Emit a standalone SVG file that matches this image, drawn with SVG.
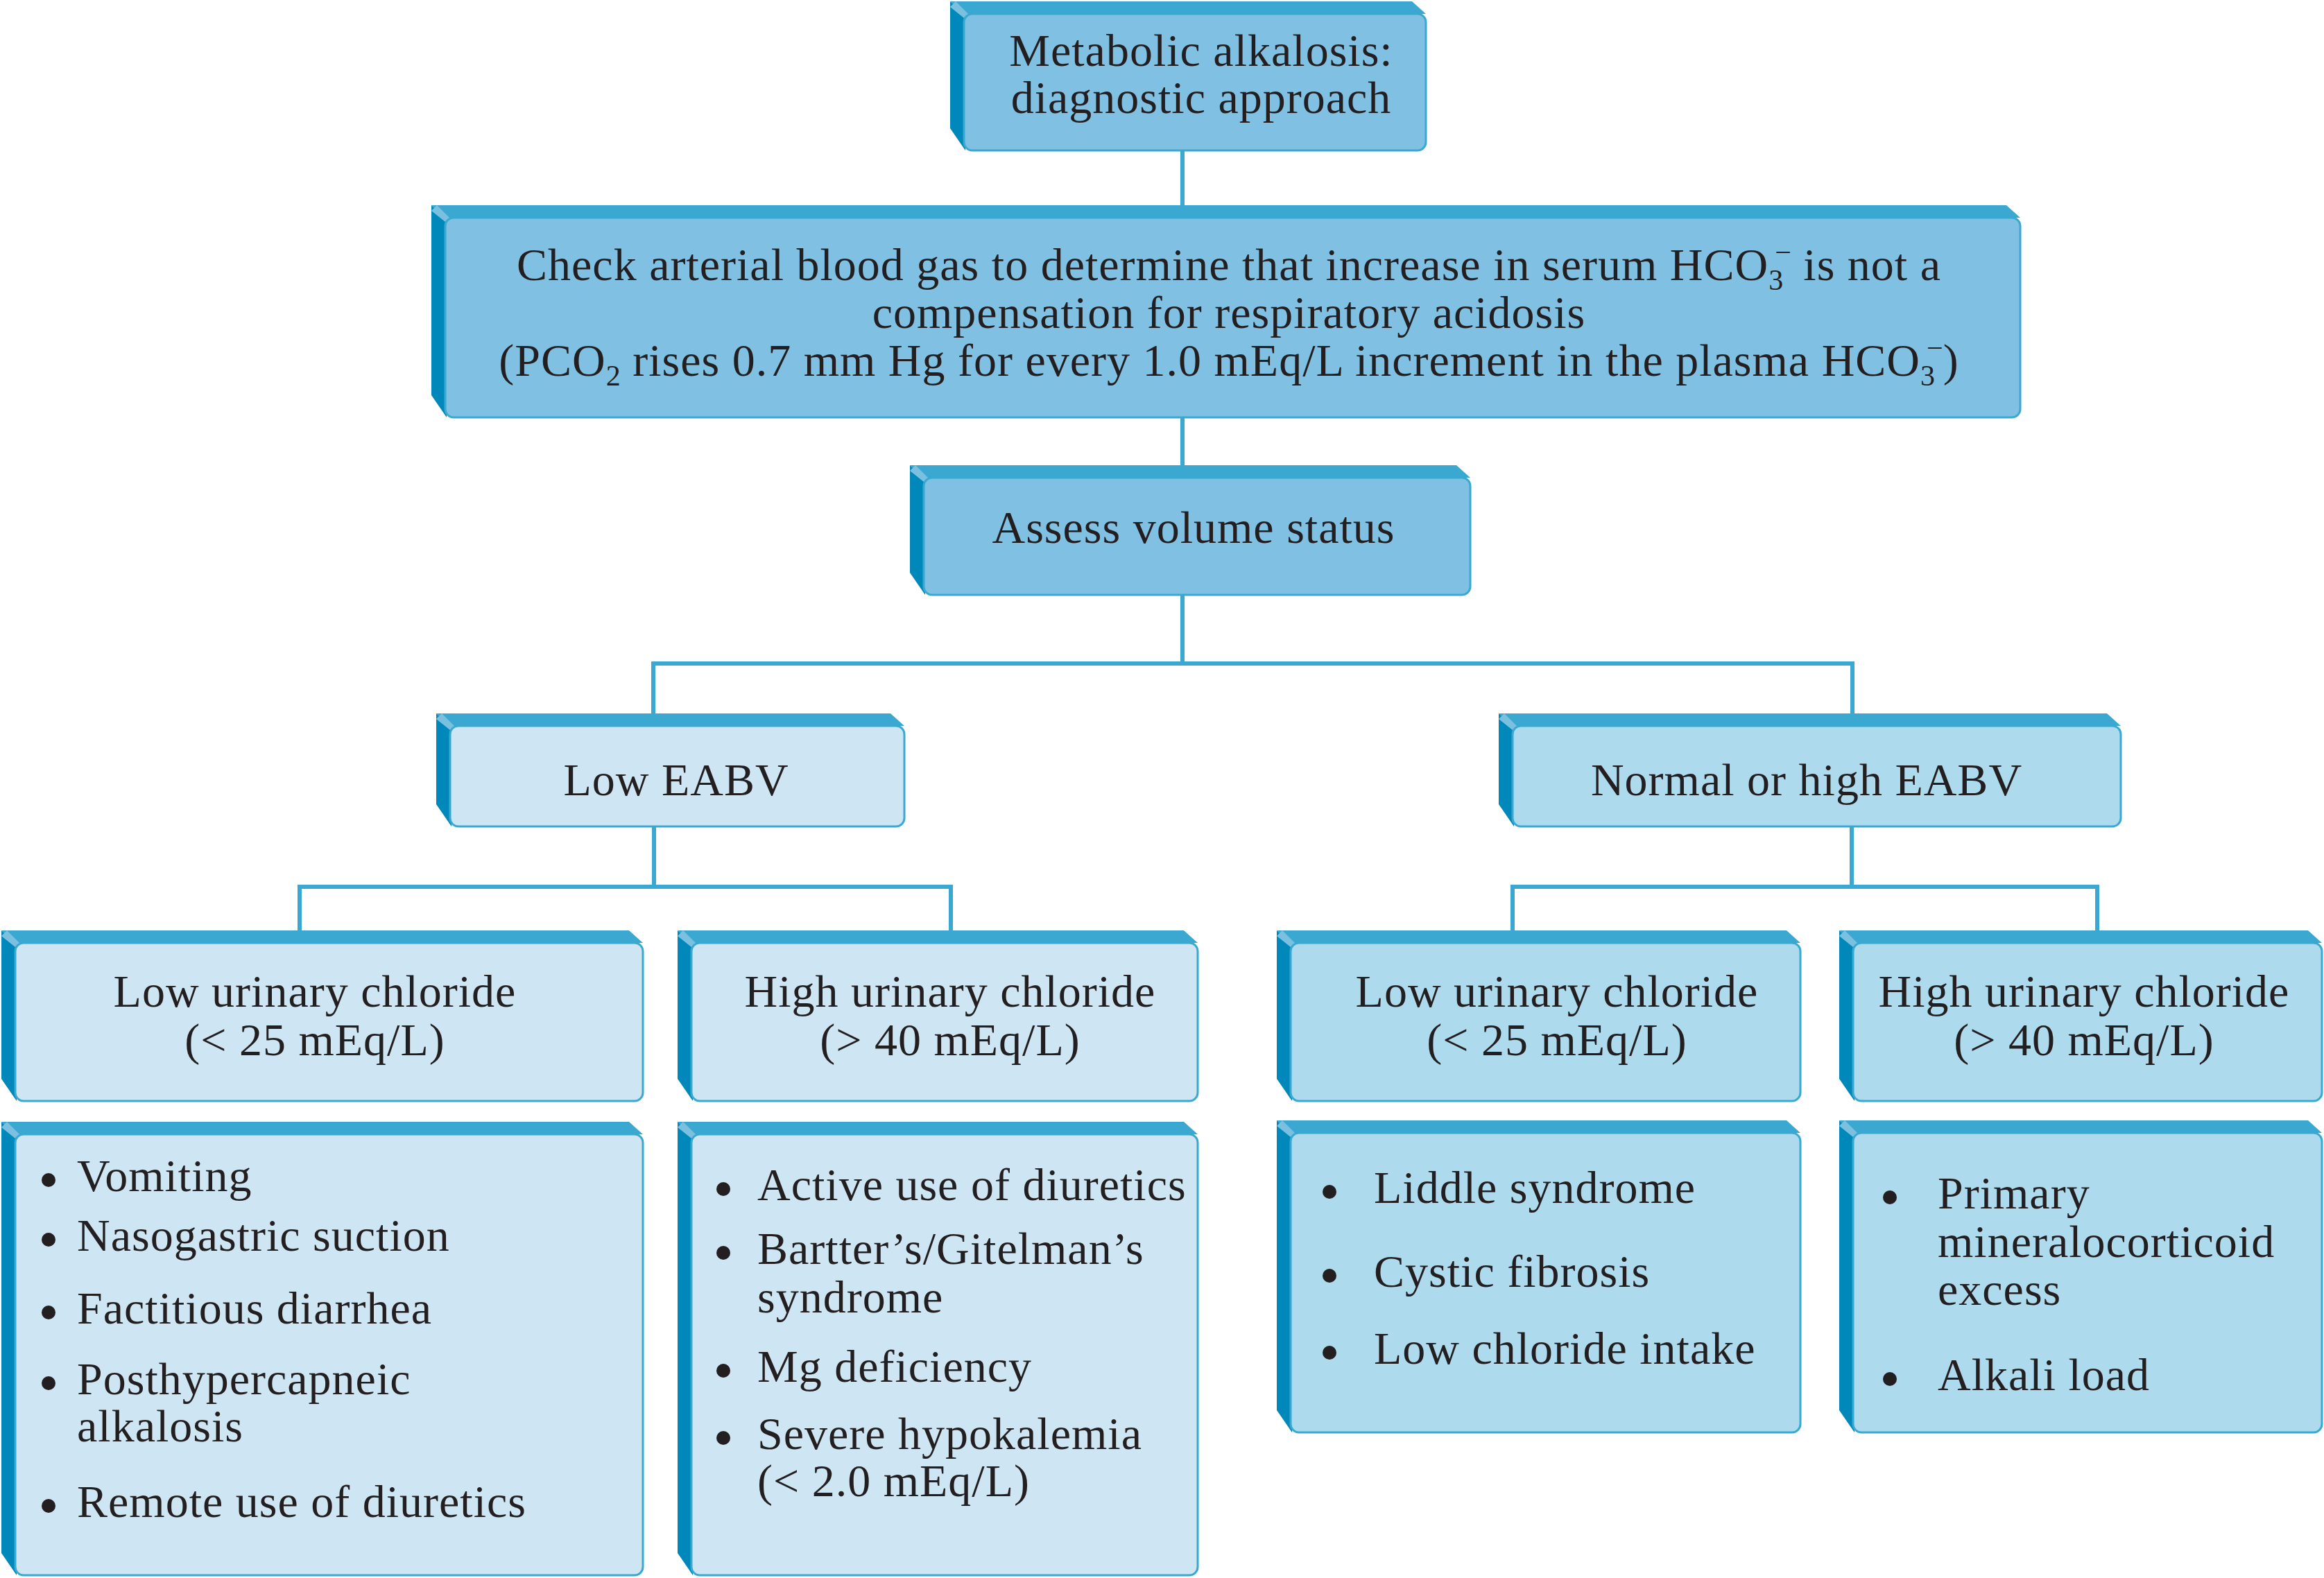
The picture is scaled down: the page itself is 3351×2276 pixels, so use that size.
<svg xmlns="http://www.w3.org/2000/svg" width="3351" height="2276" viewBox="0 0 3351 2276">
<style>
.top{fill:#3aa8d0}
.side{fill:#0088ba}
.bev{fill:#7cc0e0}
.fa{fill:#80c1e3;stroke:#3aa8d0;stroke-width:3}
.fl{fill:#cee6f3;stroke:#3aa8d0;stroke-width:3}
.fn{fill:#aedaee;stroke:#3aa8d0;stroke-width:3}
text{font-family:"Liberation Serif","Times New Roman",serif;font-size:66px;fill:#231f20;letter-spacing:1px}
.c{text-anchor:middle}
.s{font-size:42px;letter-spacing:0}
.b{fill:#231f20}
.conn{fill:none;stroke:#3aa8d0;stroke-width:6;stroke-linejoin:miter}
</style>
<rect width="3351" height="2276" fill="#ffffff"/>
<g id="connectors">
<path class="conn" d="M1705,217 V297"/>
<path class="conn" d="M1705,602 V671"/>
<path class="conn" d="M1705,858 V957 M942,1030 V957 H2671 V1030"/>
<path class="conn" d="M943,1192 V1279 M432,1343 V1279 H1371 V1343"/>
<path class="conn" d="M2670,1192 V1279 M2181,1343 V1279 H3024 V1343"/>
</g>
<g id="n-title">
<polygon class="top" points="1390,20 1370,2 2036,2 2056,20"/>
<polygon class="side" points="1370,2 1392,22 1392,217 1370,185"/>
<polygon class="bev" points="1370,10 1378,2 1396,20 1390,26"/>
<rect class="fa" x="1390" y="20" width="666" height="197" rx="12"/>
<text class="c" x="1732" y="95">Metabolic alkalosis:</text>
<text class="c" x="1732" y="163">diagnostic approach</text>
</g>
<g id="n-abg">
<polygon class="top" points="642,314 622,296 2893,296 2913,314"/>
<polygon class="side" points="622,296 644,316 644,602 622,570"/>
<polygon class="bev" points="622,304 630,296 648,314 642,320"/>
<rect class="fa" x="642" y="314" width="2271" height="288" rx="12"/>
<text class="c" x="1772" y="404">Check arterial blood gas to determine that increase in serum HCO<tspan class="s" dy="14">3</tspan><tspan class="s" dx="-12" dy="-40">−</tspan><tspan dy="26"> is not a</tspan></text>
<text class="c" x="1772" y="473">compensation for respiratory acidosis</text>
<text class="c" x="1772" y="542">(PCO<tspan class="s" dy="14">2</tspan><tspan dy="-14"> rises 0.7 mm Hg for every 1.0 mEq/L increment in the plasma HCO</tspan><tspan class="s" dy="14">3</tspan><tspan class="s" dx="-12" dy="-40">−</tspan><tspan dy="26">)</tspan></text>
</g>
<g id="n-volume">
<polygon class="top" points="1332,689 1312,671 2100,671 2120,689"/>
<polygon class="side" points="1312,671 1334,691 1334,858 1312,826"/>
<polygon class="bev" points="1312,679 1320,671 1338,689 1332,695"/>
<rect class="fa" x="1332" y="689" width="788" height="169" rx="12"/>
<text class="c" x="1721" y="783">Assess volume status</text>
</g>
<g id="n-low-eabv">
<polygon class="top" points="649,1047 629,1029 1284,1029 1304,1047"/>
<polygon class="side" points="629,1029 651,1049 651,1192 629,1160"/>
<polygon class="bev" points="629,1037 637,1029 655,1047 649,1053"/>
<rect class="fl" x="649" y="1047" width="655" height="145" rx="12"/>
<text class="c" x="975" y="1147">Low EABV</text>
</g>
<g id="n-high-eabv">
<polygon class="top" points="2181,1047 2161,1029 3038,1029 3058,1047"/>
<polygon class="side" points="2161,1029 2183,1049 2183,1192 2161,1160"/>
<polygon class="bev" points="2161,1037 2169,1029 2187,1047 2181,1053"/>
<rect class="fn" x="2181" y="1047" width="877" height="145" rx="12"/>
<text class="c" x="2605" y="1147">Normal or high EABV</text>
</g>
<g id="n-low-ucl-1">
<polygon class="top" points="22,1360 2,1342 907,1342 927,1360"/>
<polygon class="side" points="2,1342 24,1362 24,1588 2,1556"/>
<polygon class="bev" points="2,1350 10,1342 28,1360 22,1366"/>
<rect class="fl" x="22" y="1360" width="905" height="228" rx="12"/>
<text class="c" x="454" y="1452">Low urinary chloride</text>
<text class="c" x="454" y="1522">(&lt; 25 mEq/L)</text>
</g>
<g id="n-high-ucl-1">
<polygon class="top" points="997,1360 977,1342 1707,1342 1727,1360"/>
<polygon class="side" points="977,1342 999,1362 999,1588 977,1556"/>
<polygon class="bev" points="977,1350 985,1342 1003,1360 997,1366"/>
<rect class="fl" x="997" y="1360" width="730" height="228" rx="12"/>
<text class="c" x="1370" y="1452">High urinary chloride</text>
<text class="c" x="1370" y="1522">(&gt; 40 mEq/L)</text>
</g>
<g id="n-low-ucl-2">
<polygon class="top" points="1861,1360 1841,1342 2576,1342 2596,1360"/>
<polygon class="side" points="1841,1342 1863,1362 1863,1588 1841,1556"/>
<polygon class="bev" points="1841,1350 1849,1342 1867,1360 1861,1366"/>
<rect class="fn" x="1861" y="1360" width="735" height="228" rx="12"/>
<text class="c" x="2245" y="1452">Low urinary chloride</text>
<text class="c" x="2245" y="1522">(&lt; 25 mEq/L)</text>
</g>
<g id="n-high-ucl-2">
<polygon class="top" points="2672,1360 2652,1342 3328,1342 3348,1360"/>
<polygon class="side" points="2652,1342 2674,1362 2674,1588 2652,1556"/>
<polygon class="bev" points="2652,1350 2660,1342 2678,1360 2672,1366"/>
<rect class="fn" x="2672" y="1360" width="676" height="228" rx="12"/>
<text class="c" x="3005" y="1452">High urinary chloride</text>
<text class="c" x="3005" y="1522">(&gt; 40 mEq/L)</text>
</g>
<g id="n-list-1">
<polygon class="top" points="22,1636 2,1618 907,1618 927,1636"/>
<polygon class="side" points="2,1618 24,1638 24,2272 2,2240"/>
<polygon class="bev" points="2,1626 10,1618 28,1636 22,1642"/>
<rect class="fl" x="22" y="1636" width="905" height="636" rx="12"/>
<circle class="b" cx="70" cy="1702" r="10"/>
<circle class="b" cx="70" cy="1788" r="10"/>
<circle class="b" cx="70" cy="1893" r="10"/>
<circle class="b" cx="70" cy="1995" r="10"/>
<circle class="b" cx="70" cy="2172" r="10"/>
<text x="111" y="1718">Vomiting</text>
<text x="111" y="1804">Nasogastric suction</text>
<text x="111" y="1909">Factitious diarrhea</text>
<text x="111" y="2011">Posthypercapneic</text>
<text x="111" y="2079">alkalosis</text>
<text x="111" y="2188">Remote use of diuretics</text>
</g>
<g id="n-list-2">
<polygon class="top" points="997,1636 977,1618 1707,1618 1727,1636"/>
<polygon class="side" points="977,1618 999,1638 999,2272 977,2240"/>
<polygon class="bev" points="977,1626 985,1618 1003,1636 997,1642"/>
<rect class="fl" x="997" y="1636" width="730" height="636" rx="12"/>
<circle class="b" cx="1043" cy="1715" r="10"/>
<circle class="b" cx="1043" cy="1807" r="10"/>
<circle class="b" cx="1043" cy="1977" r="10"/>
<circle class="b" cx="1043" cy="2074" r="10"/>
<text x="1092" y="1731">Active use of diuretics</text>
<text x="1092" y="1823">Bartter’s/Gitelman’s</text>
<text x="1092" y="1893">syndrome</text>
<text x="1092" y="1993">Mg deficiency</text>
<text x="1092" y="2090">Severe hypokalemia</text>
<text x="1092" y="2158">(&lt; 2.0 mEq/L)</text>
</g>
<g id="n-list-3">
<polygon class="top" points="1861,1634 1841,1616 2576,1616 2596,1634"/>
<polygon class="side" points="1841,1616 1863,1636 1863,2066 1841,2034"/>
<polygon class="bev" points="1841,1624 1849,1616 1867,1634 1861,1640"/>
<rect class="fn" x="1861" y="1634" width="735" height="432" rx="12"/>
<circle class="b" cx="1917" cy="1719" r="10"/>
<circle class="b" cx="1917" cy="1840" r="10"/>
<circle class="b" cx="1917" cy="1951" r="10"/>
<text x="1981" y="1735">Liddle syndrome</text>
<text x="1981" y="1856">Cystic fibrosis</text>
<text x="1981" y="1967">Low chloride intake</text>
</g>
<g id="n-list-4">
<polygon class="top" points="2672,1634 2652,1616 3328,1616 3348,1634"/>
<polygon class="side" points="2652,1616 2674,1636 2674,2066 2652,2034"/>
<polygon class="bev" points="2652,1624 2660,1616 2678,1634 2672,1640"/>
<rect class="fn" x="2672" y="1634" width="676" height="432" rx="12"/>
<circle class="b" cx="2725" cy="1727" r="10"/>
<circle class="b" cx="2725" cy="1989" r="10"/>
<text x="2794" y="1743">Primary</text>
<text x="2794" y="1813">mineralocorticoid</text>
<text x="2794" y="1882">excess</text>
<text x="2794" y="2005">Alkali load</text>
</g>
</svg>
